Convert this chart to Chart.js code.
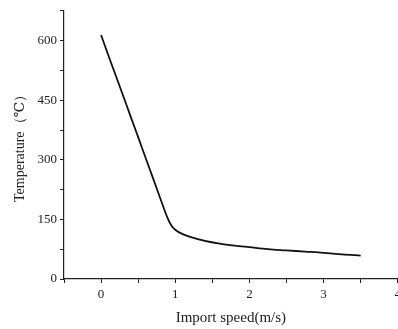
<!DOCTYPE html>
<html>
<head>
<meta charset="utf-8">
<script src="https://cdn.jsdelivr.net/npm/chart.js@4"></script>
<style>
  html, body { margin: 0; padding: 0; background: #fff; overflow: hidden; }
  #wrap { width: 405px; height: 329px; }
</style>
</head>
<body>
<div id="wrap"><canvas id="chartTemp"></canvas></div>
<script>
/* data */
var speed = [0, 0.1, 0.2, 0.3, 0.4, 0.5, 0.6, 0.7, 0.8, 0.9, 0.95, 1.0, 1.1, 1.2, 1.4, 1.6, 1.8, 2.0, 2.25, 2.5, 2.75, 3.0, 3.25, 3.5];
var temperature = [614, 562, 511, 460, 408, 357, 305, 254, 202, 152, 134, 124, 113, 106, 96, 89, 84, 80, 75, 72, 69, 66, 62, 59];
var yTicks = [0, 150, 300, 450, 600];
var xTicks = [0, 1, 2, 3, 4];

var serif = "'Liberation Serif', 'DejaVu Serif', serif";

var points = speed.map(function (s, i) { return { x: s, y: temperature[i] }; });

var chartTemp = document.getElementById('chartTemp').getContext('2d');
new Chart(chartTemp, {
    type: 'line',
    data: {
        datasets: [{
            data: points,
            borderColor: '#111',
            borderWidth: 1.8,
            pointRadius: 0,
            tension: 0.4,
            cubicInterpolationMode: 'monotone',
            fill: false
        }]
    },
    options: {
        responsive: true,
        maintainAspectRatio: false,
        animation: false,
        layout: { padding: { top: 10, left: 0, right: 0, bottom: 0 } },
        plugins: { legend: { display: false }, tooltip: { enabled: false } },
        scales: {
            x: {
                type: 'linear',
                min: -0.5,
                max: 4,
                border: { display: true, color: '#222', width: 1.2 },
                grid: { drawOnChartArea: false, tickLength: 4, tickColor: '#222' },
                ticks: {
                    stepSize: 0.5,
                    padding: 4,
                    color: '#222',
                    font: { family: serif, size: 13 },
                    callback: function (v) { return xTicks.indexOf(v) >= 0 ? String(v) : ''; }
                },
                title: {
                    display: true,
                    text: 'Import speed(m/s)',
                    color: '#222',
                    font: { family: serif, size: 15 },
                    padding: { top: 0, bottom: 2 }
                },
                afterFit: function (scale) { scale.height = 50; }
            },
            y: {
                min: 0,
                max: 675,
                border: { display: true, color: '#222', width: 1.2 },
                grid: { drawOnChartArea: false, tickLength: 4, tickColor: '#222' },
                ticks: {
                    stepSize: 75,
                    padding: 3,
                    color: '#222',
                    font: { family: serif, size: 13 },
                    callback: function (v) { return yTicks.indexOf(v) >= 0 ? String(v) : ''; }
                },
                title: {
                    display: true,
                    text: 'Temperature（℃）',
                    color: '#222',
                    font: { family: serif, size: 14 },
                    padding: { top: 12, bottom: 0 }
                },
                afterFit: function (scale) { scale.width = 64; }
            }
        }
    }
});
</script>
</body>
</html>
